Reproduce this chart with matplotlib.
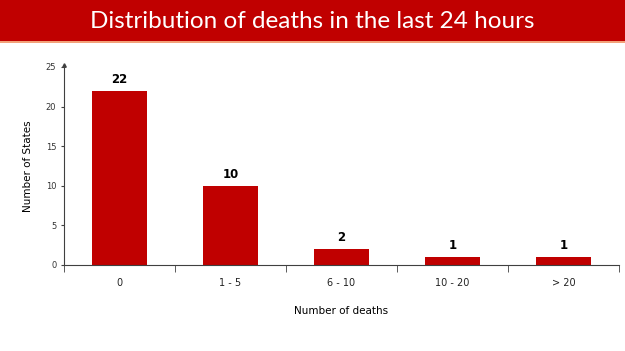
import matplotlib.pyplot as plt
from matplotlib.patches import Rectangle

categories = ['0', '1 - 5', '6 - 10', '10 - 20', '> 20']
states = [22, 10, 2, 1, 1]
y_ticks = [0, 5, 10, 15, 20, 25]

red = '#C00000'
axis_col = '#404040'

fig = plt.figure(figsize=(6.25, 3.51), dpi=100)

# title banner
fig.patches.append(Rectangle((0, 1 - 41 / 351), 1, 41 / 351, transform=fig.transFigure,
                             facecolor=red, edgecolor='none'))
fig.patches.append(Rectangle((0, 1 - 43 / 351), 1, 2 / 351, transform=fig.transFigure,
                             facecolor='#F2A27A', edgecolor='none'))
fig.text(0.5, 1 - 21 / 351, 'Distribution of deaths in the last 24 hours', color='white',
         fontsize=17.5, family='Lato', ha='center', va='center')

ax = fig.add_axes([64 / 625, 86 / 351, 555 / 625, 198 / 351])
x = range(len(categories))
bars = ax.bar(x, states, width=0.5, color=red)
for xi, v in zip(x, states):
    ax.text(xi, v + 0.6, str(v), ha='center', va='bottom', fontsize=8.5, fontweight='bold')

ax.set_xlim(-0.5, len(categories) - 0.5)
ax.set_ylim(0, 25)
ax.set_yticks(y_ticks)
ax.tick_params(axis='y', labelsize=6, colors=axis_col, length=2, labelcolor='#333333')
ax.set_xticks(x)
ax.set_xticklabels(categories)
ax.tick_params(axis='x', length=0, labelsize=7, pad=9, labelcolor='#222222')
# category separators below the axis
ax.set_xticks([i + 0.5 for i in range(-1, len(categories))], minor=True)
ax.tick_params(axis='x', which='minor', length=5, color=axis_col, direction='out')

for s in ['top', 'right']:
    ax.spines[s].set_visible(False)
ax.spines['left'].set_color(axis_col)
ax.spines['bottom'].set_color(axis_col)
ax.plot(0, 1.01, '^', color=axis_col, markersize=2.5, transform=ax.transAxes, clip_on=False)

ax.set_ylabel('Number of States', fontsize=7.5, labelpad=9)
ax.set_xlabel('Number of deaths', fontsize=7.5, labelpad=13)

fig.savefig('out.png', dpi=100)
